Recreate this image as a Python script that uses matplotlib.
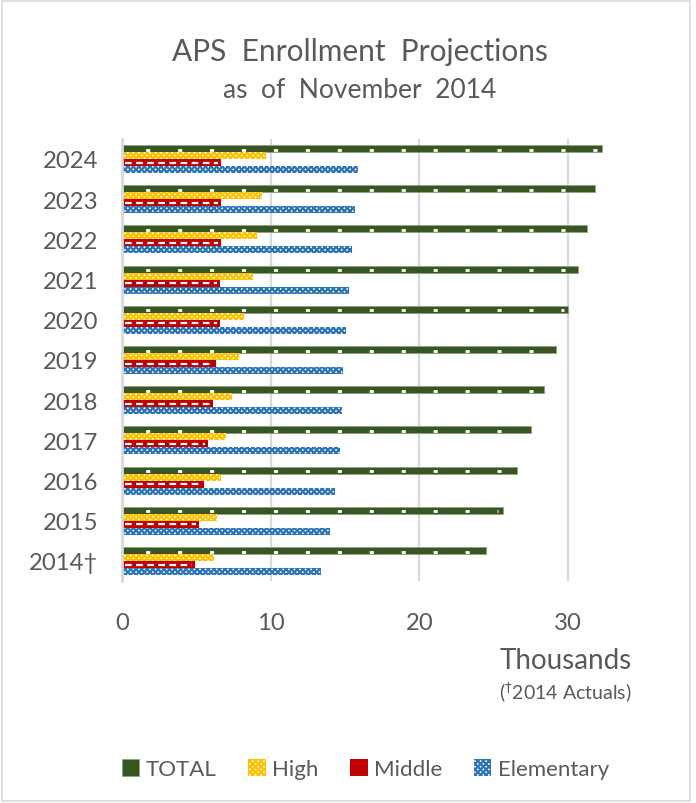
import matplotlib
matplotlib.use("Agg")
import matplotlib.pyplot as plt
from matplotlib.patches import Rectangle
import numpy as np

plt.rcParams['font.family'] = ['Lato', 'DejaVu Sans']
plt.rcParams['hatch.linewidth'] = 1.6

years = ["2014†", "2015", "2016", "2017", "2018", "2019", "2020", "2021", "2022", "2023", "2024"]
total = [24.5, 25.6, 26.6, 27.5, 28.4, 29.2, 30.0, 30.7, 31.3, 31.8, 32.3]
high = [6.2, 6.4, 6.7, 7.0, 7.4, 7.9, 8.2, 8.8, 9.1, 9.4, 9.7]
middle = [4.9, 5.2, 5.5, 5.8, 6.1, 6.3, 6.6, 6.6, 6.7, 6.7, 6.7]
elementary = [13.4, 14.0, 14.3, 14.7, 14.8, 14.9, 15.1, 15.3, 15.5, 15.7, 15.9]
xticks = [0, 10, 20, 30]

GRAY = "#595959"
fig = plt.figure(figsize=(6.96, 8.04), dpi=100)
fig.patches.append(Rectangle((0.003, 0.003), 0.988, 0.994, transform=fig.transFigure,
                             fill=False, edgecolor="#D9D9D9", linewidth=1.2))
ax = fig.add_axes([0.175, 0.276, 0.748, 0.550])

pos = np.arange(len(years))
h = 0.175
series = [
    ("TOTAL", total, 1.5, dict(color="#375623", edgecolor="#8FA47E", linewidth=0.6)),
    ("High", high, 0.5, dict(color="white", edgecolor="#FFC000", hatch="xxxxxx", linewidth=0)),
    ("Middle", middle, -0.5, dict(color="#C00000", edgecolor="#C00000", linewidth=0)),
    ("Elementary", elementary, -1.5, dict(color="white", edgecolor="#2E75B6", hatch="xxxxxx", linewidth=0)),
]
handles = []
for name, vals, off, kw in series:
    b = ax.barh(pos + off * h, vals, height=h, label=name, zorder=3, **kw)
    handles.append(b)

# pattern details: white dots on TOTAL, white dashes on Middle
ax.hlines(pos + 1.5 * h - 0.03, 0, np.array(total) - 0.3, colors="white",
          linewidth=2.0, linestyles=[(3, (1.5, 10))], zorder=4)
ax.hlines(pos - 0.5 * h, 0.2, np.array(middle) - 0.2, colors="white",
          linewidth=1.6, linestyles=[(0, (3, 2))], zorder=4)

ax.set_xlim(0, 35)
ax.set_ylim(-0.5, len(years) - 0.5)
ax.set_xticks(xticks)
ax.set_xticklabels([str(t) for t in xticks])
ax.set_yticks(pos)
ax.set_yticklabels(years)
ax.tick_params(axis='both', length=0, labelsize=17.2, labelcolor=GRAY)
ax.tick_params(axis='x', pad=22)
ax.tick_params(axis='y', pad=17)
ax.xaxis.grid(True, color="#D9D9D9", linewidth=1.6, zorder=0)
ax.set_axisbelow(True)
for s in ["top", "right", "bottom"]:
    ax.spines[s].set_visible(False)
ax.spines["left"].set_color("#D9D9D9")
ax.spines["left"].set_linewidth(2)
ax.spines["left"].set_zorder(5)

fig.text(0.517, 0.935, "APS  Enrollment  Projections", ha="center", va="center",
         fontsize=21.5, color=GRAY)
fig.text(0.517, 0.887, "as  of  November  2014", ha="center", va="center",
         fontsize=19, color=GRAY)
fig.text(0.908, 0.178, "Thousands", ha="right", va="center", fontsize=20, color=GRAY)
fig.text(0.908, 0.139, "($^{\u2020}$2014 Actuals)", ha="right", va="center", fontsize=14, color=GRAY)

leg = fig.legend(handles=handles, loc="center", bbox_to_anchor=(0.525, 0.042), ncol=4,
                 frameon=False, fontsize=16, handlelength=0.8, handleheight=0.8,
                 handletextpad=0.3, columnspacing=1.4, labelcolor=GRAY)

fig.savefig("out.png", dpi=100)
